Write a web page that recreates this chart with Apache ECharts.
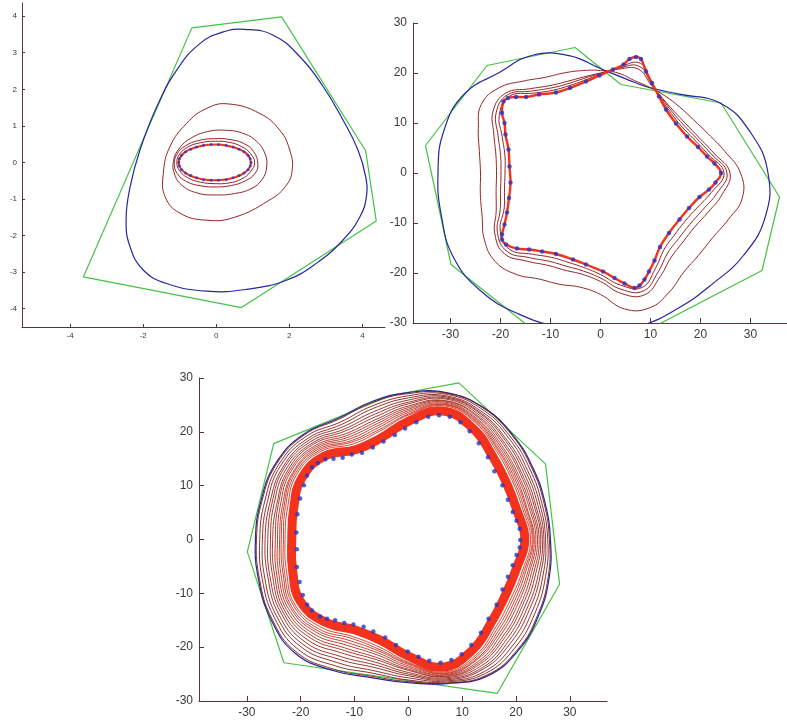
<!DOCTYPE html>
<html>
<head>
<meta charset="utf-8">
<script src="https://cdn.jsdelivr.net/npm/echarts@6/dist/echarts.min.js"></script>
<style>
  html, body { margin: 0; padding: 0; background: #ffffff; }
  #chart { width: 787px; height: 720px; }
</style>
</head>
<body>
<div id="chart"></div>
<script>
// ---------- Panel A: small example (top left) ----------
const ticksAx = [-4, -2, 0, 2, 4];
const ticksAy = [-4, -3, -2, -1, 0, 1, 2, 3, 4];
const hullA = [[-0.67, 3.68], [1.79, 3.98], [4.09, 0.32], [4.38, -1.60], [0.69, -3.97], [-3.64, -3.13]];
const initA = [[0.78, 3.64], [1.56, 3.48], [2.29, 2.89], [2.93, 2.07], [3.47, 1.16], [3.88, 0.34], [4.09, -0.39],
  [4.11, -0.94], [3.93, -1.49], [3.47, -2.12], [2.74, -2.76], [1.92, -3.22], [0.83, -3.47], [-0.26, -3.52],
  [-1.36, -3.31], [-2.0, -2.94], [-2.36, -2.31], [-2.47, -1.58], [-2.36, -0.67], [-2.09, 0.34], [-1.63, 1.52],
  [-1.08, 2.53], [-0.45, 3.25], [0.19, 3.57]];
const stepA1 = [[0.33, 1.6], [1.19, 1.34], [1.74, 0.88], [2.01, 0.34], [2.08, -0.2], [1.9, -0.65], [1.42, -1.05],
  [0.5, -1.5], [-0.26, -1.58], [-0.99, -1.39], [-1.4, -0.94], [-1.45, -0.3], [-1.27, 0.43], [-0.81, 1.07], [-0.26, 1.48]];
const stepA2 = [[1.38, -0.12], [1.33, 0.25], [1.1, 0.58], [0.72, 0.8], [0.25, 0.88], [-0.25, 0.84], [-0.7, 0.66],
  [-1.0, 0.4], [-1.17, 0.05], [-1.14, -0.33], [-0.92, -0.64], [-0.5, -0.84], [0.0, -0.89], [0.5, -0.85], [0.95, -0.72], [1.25, -0.47]];
const stepA3 = [[1.14, -0.05], [1.02, 0.3], [0.75, 0.52], [0.35, 0.63], [-0.05, 0.65], [-0.48, 0.6], [-0.85, 0.45],
  [-1.08, 0.22], [-1.15, -0.05], [-1.07, -0.3], [-0.82, -0.52], [-0.42, -0.64], [0.0, -0.67], [0.42, -0.63], [0.8, -0.5], [1.06, -0.3]];
const stepA4 = [[1.05, 0], [0.93, 0.25], [0.7, 0.43], [0.35, 0.55], [-0.03, 0.58], [-0.43, 0.54], [-0.78, 0.42],
  [-1.0, 0.23], [-1.08, 0], [-1.0, -0.23], [-0.78, -0.42], [-0.43, -0.54], [-0.03, -0.58], [0.35, -0.56], [0.7, -0.45], [0.93, -0.26]];
const finalA = [[0.95, 0], [0.875, 0.19], [0.66, 0.35], [0.34, 0.45], [-0.04, 0.49], [-0.42, 0.45], [-0.74, 0.35],
  [-0.955, 0.19], [-1.03, 0], [-0.955, -0.19], [-0.74, -0.35], [-0.42, -0.45], [-0.04, -0.49], [0.34, -0.45], [0.66, -0.35], [0.875, -0.19]];
const dotsA = [[0.95, 0], [0.93, 0.10], [0.87, 0.20], [0.76, 0.29], [0.62, 0.36], [0.46, 0.42], [0.27, 0.47], [0.06, 0.49],
  [-0.14, 0.49], [-0.35, 0.47], [-0.54, 0.42], [-0.70, 0.36], [-0.84, 0.29], [-0.95, 0.20], [-1.01, 0.10], [-1.03, 0],
  [-1.01, -0.10], [-0.95, -0.20], [-0.84, -0.29], [-0.70, -0.36], [-0.54, -0.42], [-0.35, -0.47], [-0.14, -0.49],
  [0.06, -0.49], [0.27, -0.47], [0.46, -0.42], [0.62, -0.36], [0.76, -0.29], [0.87, -0.20], [0.93, -0.10]];

// ---------- Panel B: star shape (top right) ----------
const ticksB = [-30, -20, -10, 0, 10, 20, 30];
const hullB = [[-22.7, 21.5], [-5.1, 25.1], [4.1, 17.7], [24.1, 14.0], [35.8, -4.8], [32.3, -19.5], [-4.4, -38.6], [-29.9, -18.3], [-35.0, 5.5]];
const angles15 = [0, 15, 30, 45, 60, 75, 90, 105, 120, 135, 150, 165, 180, 195, 210, 225, 240, 255, 270, 285, 300, 315, 330, 345];
const angles10 = [0, 10, 20, 30, 40, 50, 60, 70, 80, 90, 100, 110, 120, 130, 140, 150, 160, 170, 180, 190, 200, 210, 220, 230,
  240, 250, 260, 270, 280, 290, 300, 310, 320, 330, 340, 350];
const initB = [33.5, 31.1, 27.8, 22.3, 19.7, 19.5, 20.9, 24.3, 27.2, 28.5, 31.5, 32.45, 32.5, 32.95, 33.9, 33.6, 32.6, 31.9, 32.0, 31.6, 31.2, 31.5, 33.0, 34.1];
const stepsB = [
  [28.0, 25.2, 22.9, 21.4, 20.6, 20.1, 19.75, 19.7, 20.3, 20.5, 20.8, 21.3, 22.1, 24.0, 26.5, 27.5, 26.0, 24.6, 24.0, 24.4, 25.2, 26.8, 27.5, 26.4, 24.5, 23.7, 23.2, 24.3, 27.6, 28.7, 27.5, 25.9, 25.6, 25.9, 27.2, 28.8],
  [25.9, 23.0, 20.9, 19.7, 19.2, 19.4, 20.3, 22.1, 21.1, 20.0, 19.5, 19.5, 20.2, 22.0, 24.8, 24.8, 22.7, 21.25, 20.8, 21.2, 22.2, 24.4, 25.1, 23.0, 21.3, 20.7, 20.6, 21.7, 24.5, 25.9, 23.9, 22.0, 21.5, 21.7, 22.9, 24.7],
  [25.3, 22.4, 20.4, 19.2, 18.85, 19.3, 20.5, 22.7, 21.3, 19.9, 19.2, 19.0, 19.65, 21.4, 24.3, 24.1, 21.8, 20.3, 19.9, 20.3, 21.35, 23.8, 24.4, 22.1, 20.4, 19.85, 19.9, 21.0, 23.6, 25.1, 22.95, 20.9, 20.4, 20.6, 21.7, 23.6],
  [24.7, 21.8, 19.85, 18.7, 18.5, 19.1, 20.65, 23.35, 21.5, 19.75, 18.8, 18.55, 19.1, 20.85, 23.85, 23.35, 20.9, 19.4, 19.1, 19.5, 20.5, 23.15, 23.75, 21.2, 19.5, 19.0, 19.2, 20.3, 22.75, 24.35, 22.0, 19.85, 19.3, 19.45, 20.5, 22.5]
];
const dotsB = [[24.1, 0], [22.8, 1.9], [21.3, 3.3], [19.5, 5.2], [17.3, 7.3], [15.1, 9.9], [13.1, 12.7], [11.7, 15.3],
  [10.3, 18.0], [9.1, 20.3], [8.1, 22.8], [7.1, 23.2], [5.8, 22.8], [4.6, 21.7], [2.5, 20.7], [-0.2, 19.5], [-2.9, 18.3],
  [-6.1, 17.0], [-8.9, 16.1], [-12.3, 15.7], [-14.9, 15.2], [-16.9, 15.2], [-18.5, 15.0], [-19.4, 14.3], [-19.7, 12.0],
  [-19.2, 10.0], [-19.0, 7.7], [-18.4, 4.7], [-18.2, 1.3], [-18.0, -1.9], [-18.3, -5.0], [-18.7, -7.9], [-19.2, -10.3],
  [-19.7, -12.3], [-19.7, -13.3], [-18.9, -14.3], [-16.7, -15.1], [-14.3, -15.3], [-11.7, -15.7], [-8.9, -16.2],
  [-5.5, -17.3], [-2.9, -18.3], [0.5, -19.7], [2.8, -21.0], [4.8, -22.1], [6.8, -23.0], [7.8, -22.5], [8.8, -21.3],
  [9.7, -19.7], [10.8, -17.5], [11.9, -14.8], [13.7, -12.0], [15.8, -9.3], [17.7, -7.0], [19.8, -4.8], [21.7, -3.3], [23.0, -1.9]];

// ---------- Panel C: rounded shape (bottom) ----------
const ticksC = [-30, -20, -10, 0, 10, 20, 30];
const hullC = [[-25.0, 17.8], [-3.1, 26.8], [9.4, 29.1], [25.5, 14.0], [28.1, -8.3], [16.5, -28.6], [-23.1, -22.9], [-29.9, -2.3]];
const initC = [26.4, 26.3, 26.7, 27.45, 28.2, 28.2, 27.3, 26.5, 26.0, 27.6, 28.4, 28.3, 28.4, 28.8, 29.5, 29.8, 28.1, 26.55, 26.6, 27.7, 29.3, 29.0, 28.0, 27.1];
const stepsC = [
  [26.2, 26.1, 26.5, 27.3, 28.1, 28.1, 27.1, 26.3, 25.8, 27.4, 28.2, 28.1, 28.2, 28.6, 29.3, 29.5, 27.8, 26.3, 26.4, 27.6, 29.1, 28.8, 27.8, 26.9],
  [25.9, 25.7, 26.1, 26.9, 27.8, 27.9, 26.7, 25.7, 25.2, 27.0, 27.8, 27.6, 27.6, 28.1, 28.8, 28.9, 27.1, 25.7, 26.1, 27.4, 28.7, 28.2, 27.2, 26.4],
  [25.5, 25.3, 25.6, 26.5, 27.4, 27.6, 26.3, 25.2, 24.7, 26.5, 27.4, 27.1, 27.1, 27.6, 28.3, 28.2, 26.4, 25.2, 25.7, 27.2, 28.3, 27.6, 26.6, 25.9],
  [25.2, 24.9, 25.2, 26.0, 27.1, 27.4, 25.9, 24.6, 24.2, 26.1, 26.9, 26.6, 26.6, 27.0, 27.8, 27.6, 25.7, 24.6, 25.3, 27.0, 27.8, 27.0, 26.0, 25.4],
  [24.9, 24.5, 24.8, 25.7, 26.9, 27.2, 25.5, 24.1, 23.7, 25.7, 26.6, 26.2, 26.1, 26.6, 27.3, 27.0, 25.1, 24.1, 25.0, 26.8, 27.5, 26.5, 25.5, 25.0],
  [24.6, 24.2, 24.4, 25.3, 26.6, 27.0, 25.2, 23.6, 23.3, 25.3, 26.2, 25.8, 25.6, 26.1, 26.9, 26.4, 24.4, 23.6, 24.7, 26.6, 27.1, 26.0, 25.0, 24.5],
  [24.3, 23.8, 24.1, 25.0, 26.3, 26.7, 24.8, 23.1, 22.8, 25.0, 25.8, 25.3, 25.2, 25.7, 26.5, 25.8, 23.8, 23.1, 24.3, 26.4, 26.7, 25.5, 24.5, 24.1],
  [24.0, 23.5, 23.7, 24.6, 26.1, 26.6, 24.5, 22.7, 22.4, 24.6, 25.5, 25.0, 24.7, 25.3, 26.1, 25.3, 23.3, 22.7, 24.1, 26.3, 26.4, 25.1, 24.1, 23.7],
  [23.7, 23.2, 23.4, 24.3, 25.8, 26.4, 24.2, 22.3, 22.0, 24.3, 25.2, 24.6, 24.3, 24.9, 25.7, 24.8, 22.7, 22.2, 23.8, 26.1, 26.1, 24.6, 23.6, 23.3],
  [23.4, 22.8, 23.1, 24.0, 25.6, 26.2, 23.9, 21.9, 21.6, 24.0, 24.8, 24.2, 23.9, 24.5, 25.3, 24.3, 22.2, 21.8, 23.5, 26.0, 25.7, 24.2, 23.2, 23.0],
  [23.2, 22.6, 22.8, 23.7, 25.4, 26.0, 23.6, 21.5, 21.2, 23.7, 24.6, 23.9, 23.6, 24.1, 25.0, 23.9, 21.7, 21.4, 23.2, 25.8, 25.5, 23.8, 22.8, 22.6],
  [23.0, 22.3, 22.5, 23.5, 25.2, 25.9, 23.3, 21.1, 20.9, 23.4, 24.3, 23.6, 23.2, 23.8, 24.6, 23.5, 21.2, 21.1, 23.0, 25.7, 25.2, 23.4, 22.4, 22.3],
  [22.7, 22.0, 22.2, 23.2, 25.0, 25.7, 23.1, 20.8, 20.5, 23.1, 24.0, 23.2, 22.9, 23.4, 24.3, 23.0, 20.8, 20.7, 22.8, 25.5, 24.9, 23.0, 22.0, 22.0]
];
const finalC = [21.65, 20.9, 21.05, 22.05, 23.9, 24.7, 21.95, 19.55, 19.3, 21.95, 22.85, 22.05, 21.65, 22.25, 23.1, 21.75, 19.45, 19.45, 21.65, 24.55, 23.75, 21.8, 20.8, 20.8];
const dotsC = [[20.8, -0.1], [20.7, 2.0], [20.1, 3.5], [19.4, 5.1], [18.5, 7.4], [17.5, 10.1], [16.0, 12.7], [14.8, 15.3],
  [13.1, 17.9], [11.4, 20.1], [9.7, 21.8], [7.7, 22.8], [5.7, 23.1], [3.7, 22.8], [1.5, 21.8], [-0.6, 20.6], [-2.5, 19.4],
  [-4.6, 18.2], [-6.6, 17.1], [-8.6, 16.1], [-10.5, 15.8], [-12.2, 15.2], [-13.9, 15.0], [-15.4, 14.9], [-16.8, 14.2],
  [-17.9, 13.4], [-18.8, 11.9], [-19.4, 10.1], [-20.1, 7.6], [-20.6, 4.7], [-20.8, 1.3], [-20.7, -1.8], [-20.7, -5.1],
  [-20.2, -7.9], [-19.6, -10.3], [-18.8, -12.1], [-17.9, -13.2], [-16.4, -14.3], [-15.1, -14.7], [-13.6, -15.0],
  [-11.9, -15.5], [-10.2, -15.8], [-8.3, -16.2], [-6.5, -17.1], [-4.3, -18.2], [-2.3, -19.6], [-0.1, -20.8], [1.9, -21.8],
  [3.9, -22.5], [6.0, -22.9], [8.0, -22.4], [9.9, -21.3], [11.7, -19.6], [13.5, -17.3], [14.9, -14.7], [16.4, -12.1],
  [17.5, -9.3], [18.5, -6.9], [19.4, -4.8], [20.1, -2.9], [20.7, -1.5]];

// ---------- helpers ----------
const AXIS = '#5e3232';
const LABEL = '#3a3a3a';
const GREEN = '#44c244';
const BLUE = '#26269f';
const BROWN = '#952424';
const RED = '#f2321c';
const DOT = '#2436c8';

function closed(pts) { return pts.concat([pts[0]]); }
function fromPolar(angles, radii) {
  return radii.map((r, i) => {
    const a = angles[i] * Math.PI / 180;
    return [r * Math.cos(a), r * Math.sin(a)];
  });
}
function axis(grid, min, max, ticks, fontSize, tickLen, margin) {
  return {
    type: 'value', gridIndex: grid, min: min, max: max, scale: true,
    axisLine: { show: true, onZero: false, lineStyle: { color: AXIS, width: 1 } },
    axisTick: { show: true, inside: true, length: tickLen, customValues: ticks, lineStyle: { color: AXIS, width: 1 } },
    axisLabel: { show: true, customValues: ticks, fontSize: fontSize, color: LABEL, margin: margin, fontFamily: 'Liberation Sans, Arial, sans-serif' },
    splitLine: { show: false }
  };
}
// straight-edged outline (hull)
function outline(g, pts, color, width) {
  return {
    type: 'line', xAxisIndex: g, yAxisIndex: g, data: closed(pts), symbol: 'none', showSymbol: false,
    smooth: false, clip: true, silent: true, animation: false, z: 2,
    lineStyle: { color: color, width: width }
  };
}
// smooth closed contour, placed through the axes' coordinate mapping
function loop(g, pts, color, width, z) {
  return {
    type: 'custom', coordinateSystem: 'cartesian2d', xAxisIndex: g, yAxisIndex: g,
    data: pts, encode: { x: 0, y: 1 }, silent: true, animation: false, z: z || 3,
    renderItem: function (params, api) {
      if (params.dataIndex !== 0) return null;
      const cs = params.coordSys;
      const pix = [];
      for (let i = 0; i < pts.length; i++) pix.push(api.coord(pts[i]));
      return {
        type: 'polygon', silent: true,
        shape: { points: pix, smooth: 0.45 },
        style: { fill: 'none', stroke: color, lineWidth: width, lineJoin: 'round' },
        clipPath: { type: 'rect', shape: { x: cs.x, y: cs.y, width: cs.width, height: cs.height } }
      };
    }
  };
}
function dots(g, data, size) {
  return {
    type: 'scatter', xAxisIndex: g, yAxisIndex: g, data: data, symbol: 'circle', symbolSize: size,
    silent: true, animation: false, z: 10, itemStyle: { color: DOT }
  };
}
function mix(c1, c2, t) {
  const r = Math.round(c1[0] + (c2[0] - c1[0]) * t);
  const g = Math.round(c1[1] + (c2[1] - c1[1]) * t);
  const b = Math.round(c1[2] + (c2[2] - c1[2]) * t);
  return 'rgb(' + r + ',' + g + ',' + b + ')';
}

const series = [];
// Panel A
series.push(outline(0, hullA, GREEN, 1.2));
series.push(loop(0, initA, BLUE, 1.2));
[stepA1, stepA2, stepA3, stepA4].forEach(s => series.push(loop(0, s, BROWN, 1)));
series.push(loop(0, finalA, RED, 2, 4));
series.push(dots(0, dotsA, 3));
// Panel B
series.push(outline(1, hullB, GREEN, 1.2));
series.push(loop(1, fromPolar(angles15, initB), BLUE, 1.2));
stepsB.forEach(r => series.push(loop(1, fromPolar(angles10, r), BROWN, 1)));
series.push(loop(1, dotsB, RED, 2.4, 4));
series.push(dots(1, dotsB, 4.5));
// Panel C
series.push(outline(2, hullC, GREEN, 1.2));
series.push(loop(2, fromPolar(angles15, initC), BLUE, 1.2));
stepsC.forEach((r, i) => series.push(loop(2, fromPolar(angles15, r),
  mix([120, 24, 24], [205, 50, 30], i / (stepsC.length - 1)), 0.9)));
series.push(loop(2, fromPolar(angles15, finalC), RED, 9, 4));
series.push(dots(2, dotsC, 4.5));

const chart = echarts.init(document.getElementById('chart'), null, { renderer: 'canvas' });
chart.setOption({
  animation: false,
  backgroundColor: '#ffffff',
  grid: [
    { left: 22, top: 3, width: 363, height: 324, containLabel: false, outerBoundsMode: 'none' },
    { left: 413, top: 23, width: 374, height: 300, containLabel: false, outerBoundsMode: 'none' },
    { left: 199, top: 378, width: 408, height: 323, containLabel: false, outerBoundsMode: 'none' }
  ],
  xAxis: [
    axis(0, -5.32, 4.62, ticksAx, 8, 3, 5),
    axis(1, -37.5, 37.3, ticksB, 12, 5, 6),
    axis(2, -38.88, 36.91, ticksC, 12, 5, 6)
  ],
  yAxis: [
    axis(0, -4.5, 4.36, ticksAy, 8, 3, 5),
    axis(1, -30, 30, ticksB, 12, 5, 6),
    axis(2, -30, 30, ticksC, 12, 5, 6)
  ],
  series: series
});
</script>
</body>
</html>
